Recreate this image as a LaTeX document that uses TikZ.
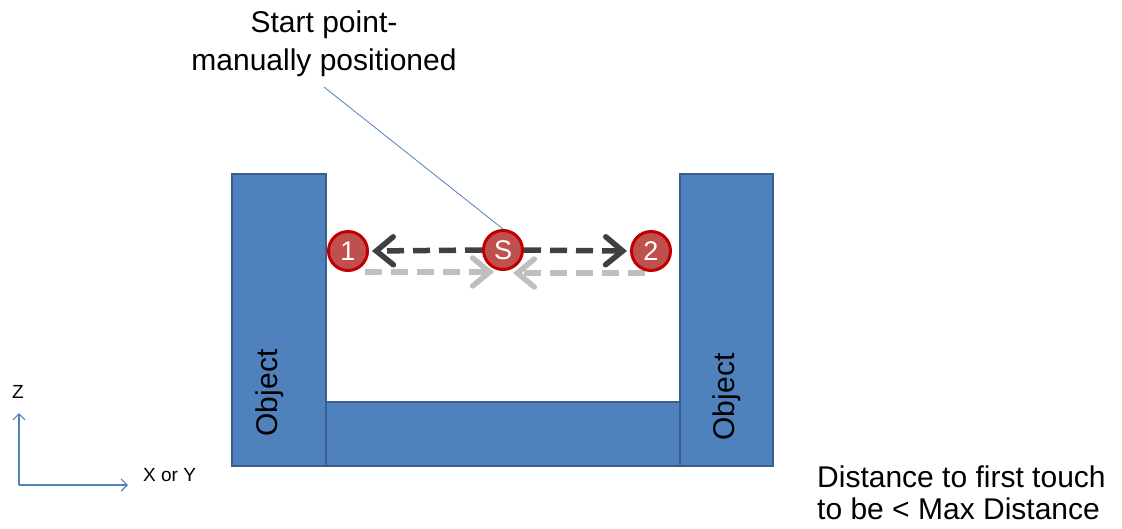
\documentclass[tikz,border=0pt]{standalone}
\usepackage{fontspec}
\setmainfont{Liberation Sans}
\usetikzlibrary{arrows.meta}
\definecolor{objblue}{HTML}{4F81BD}
\definecolor{objedge}{HTML}{3A5F8C}
\definecolor{ptfill}{HTML}{C0504D}
\definecolor{ptedge}{HTML}{C00000}
\definecolor{darkarr}{HTML}{404040}
\definecolor{lightarr}{HTML}{BFBFBF}
\tikzset{
  objbox/.style={draw=objedge, fill=objblue, line width=2.5pt},
  pt/.style={circle, draw=ptedge, fill=ptfill, line width=3pt, minimum size=39pt, inner sep=0pt, text=white, font=\fontsize{27}{27}\selectfont},
  movetip/.style={-{Straight Barb[length=17pt,width=28pt,line cap=round]}},
  darkmove/.style={draw=darkarr, line width=5.5pt, dash pattern=on 17pt off 9pt, movetip},
  lightmove/.style={draw=lightarr, line width=5.5pt, dash pattern=on 17pt off 9pt, movetip},
  lbl/.style={font=\fontsize{30}{38}\selectfont, inner sep=0pt},
  axis/.style={draw=objblue, line width=1.2pt, -{Straight Barb[length=6pt,width=12pt]}}
}
\begin{document}
\begin{tikzpicture}[x=1pt,y=-1pt]
\useasboundingbox (0,0) rectangle (1122,529);
% objects
\draw[objbox] (326,402) rectangle (680,466);
\draw[objbox] (232,174) rectangle (326,466);
\draw[objbox] (680,174) rectangle (773,466);
\node[lbl, rotate=90] (objL) at (270,393) {Object};
\node[lbl, rotate=90] (objR) at (727,397) {Object};
% light arrows
\coordinate (la1) at (365,272);
\coordinate (la2) at (494,272);
\coordinate (lb1) at (645,273);
\coordinate (lb2) at (513,273);
\draw[lightmove] (la1) -- (la2);
\draw[lightmove] (lb1) -- (lb2);
% points
\node[pt] (p1) at (348,251) {1};
\node[pt] (pS) at (503,250) {S};
\node[pt] (p2) at (651,251) {2};
\draw[darkmove] (pS.west) -- ([xshift=3pt]p1.east);
\draw[darkmove] (pS.east) -- ([xshift=-3pt]p2.west);
% label
\node[lbl, align=center] (start) at (324,44) {Start point-\\manually positioned};
\coordinate (lead) at (324,87);
\draw[objblue, line width=0.8pt] (lead) -- (pS.north);
% axes
\coordinate (o) at (19,485);
\coordinate (zend) at (19,413);
\coordinate (xend) at (128,485);
\draw[axis] (o) -- (zend);
\draw[axis] (o) -- (xend);
\node[font=\fontsize{19}{19}\selectfont, inner sep=0pt] (zl) at (18,392) {Z};
\node[font=\fontsize{19}{19}\selectfont, inner sep=0pt, anchor=west] (xl) at (143,475) {X or Y};
% note
\node[font=\fontsize{30}{32}\selectfont, inner sep=0pt, align=left, anchor=west] (note) at (817,493) {Distance to first touch\\to be < Max Distance};
\end{tikzpicture}
\end{document}
